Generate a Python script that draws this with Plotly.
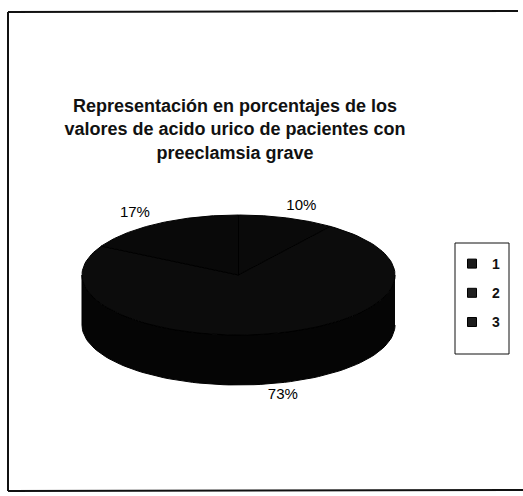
import numpy as np
import plotly.graph_objects as go

# ---- data ----
categories = ["1", "2", "3"]
values = [10, 73, 17]
title_lines = [
    "Representación en porcentajes de los",
    "valores de acido urico de pacientes con",
    "preeclamsia grave",
]

# ---- geometry / style (pixel-like axis units) ----
W, H = 523, 496
CX, CY, RX, RY, DEPTH = 238.5, 275.0, 156.5, 60.0, 50.0
START = 90.0  # first slice starts at 12 o'clock, clockwise
slice_colors = ["#0a0a0a", "#0c0c0c", "#090909"]
wall_colors = ["#050505", "#050505", "#050505"]
legend_colors = ["#1a1a1a", "#202020", "#1c1c1c"]
FONT = "Liberation Sans, Arial, sans-serif"

total = float(sum(values))
angles = []
a = START
for v in values:
    span = 360.0 * v / total
    angles.append((a, a - span))
    a -= span


def pt(theta_deg, dy=0.0):
    t = np.radians(theta_deg)
    return CX + RX * np.cos(t), CY - RY * np.sin(t) + dy


fig = go.Figure()

# side walls (front, visible part)
for i, (a0, a1) in enumerate(angles):
    xs, ys = [], []
    for k in range(-2, 3):
        lo = max(a1, 360 * k - 180)
        hi = min(a0, 360 * k)
        if lo < hi:
            th = np.linspace(hi, lo, 80)
            tx, ty = pt(th)
            bx, by = pt(th[::-1], DEPTH)
            xs += list(tx) + list(bx) + [None]
            ys += list(ty) + list(by) + [None]
    if xs:
        fig.add_trace(go.Scatter(
            x=xs, y=ys, mode="lines", fill="toself",
            fillcolor=wall_colors[i], line=dict(color="#000000", width=1),
            showlegend=False, hoverinfo="skip"))

# top faces
for i, (a0, a1) in enumerate(angles):
    th = np.linspace(a0, a1, 120)
    tx, ty = pt(th)
    xs = [CX] + list(tx) + [CX]
    ys = [CY] + list(ty) + [CY]
    fig.add_trace(go.Scatter(
        x=xs, y=ys, mode="lines", fill="toself",
        fillcolor=slice_colors[i], line=dict(color="#000000", width=1),
        showlegend=False, hoverinfo="skip"))

# percentage labels
lx, ly, lt = [], [], []
for (a0, a1), v in zip(angles, values):
    mid = (a0 + a1) / 2.0
    t = np.radians(mid)
    x = CX + RX * 1.3 * np.cos(t)
    y = CY - RY * 1.2 * np.sin(t) + (DEPTH if np.sin(t) < 0 else 0.0)
    lx.append(x)
    ly.append(y)
    lt.append(f"{round(100 * v / total)}%")
fig.add_trace(go.Scatter(
    x=lx, y=ly, text=lt, mode="text",
    textfont=dict(family=FONT, size=15, color="#000000"),
    showlegend=False, hoverinfo="skip"))

# legend entries
for i, c in enumerate(categories):
    fig.add_trace(go.Scatter(
        x=[None], y=[None], mode="markers", name=c, legendgroup=c,
        marker=dict(symbol="square", size=9, color=legend_colors[i],
                    line=dict(color="#000000", width=1))))

# frame lines and legend box (paper coords)
frame = dict(type="line", xref="paper", yref="paper",
             line=dict(color="#111111", width=2))
shapes = [
    dict(frame, x0=8 / W, x1=518 / W, y0=1 - 12 / H, y1=1 - 11 / H),
    dict(frame, x0=8 / W, x1=8 / W, y0=1 - 12 / H, y1=1 - 491 / H),
    dict(frame, x0=8 / W, x1=1.0, y0=1 - 491 / H, y1=1 - 490 / H),
    dict(type="rect", xref="paper", yref="paper",
         x0=455 / W, x1=509 / W, y0=1 - 243 / H, y1=1 - 354 / H,
         line=dict(color="#111111", width=1), fillcolor="rgba(0,0,0,0)"),
]

fig.update_layout(
    width=W, height=H,
    margin=dict(l=0, r=0, t=0, b=0),
    paper_bgcolor="white", plot_bgcolor="white",
    xaxis=dict(range=[0, W], visible=False, fixedrange=True),
    yaxis=dict(range=[H, 0], visible=False, fixedrange=True),
    title=dict(
        text="<b>" + "<br>".join(title_lines) + "</b>",
        x=235 / W, xanchor="center", xref="container",
        y=1 - 112 / H, yanchor="top", yref="container",
        font=dict(family=FONT, size=18, color="#111111")),
    legend=dict(
        x=452 / W, y=1 - 248 / H, xanchor="left", yanchor="top",
        bgcolor="rgba(0,0,0,0)", borderwidth=0,
        font=dict(family=FONT, size=14, color="#111111", weight="bold"),
        tracegroupgap=8, itemwidth=30),
    shapes=shapes,
    showlegend=True,
)

fig.write_html("out.html")
